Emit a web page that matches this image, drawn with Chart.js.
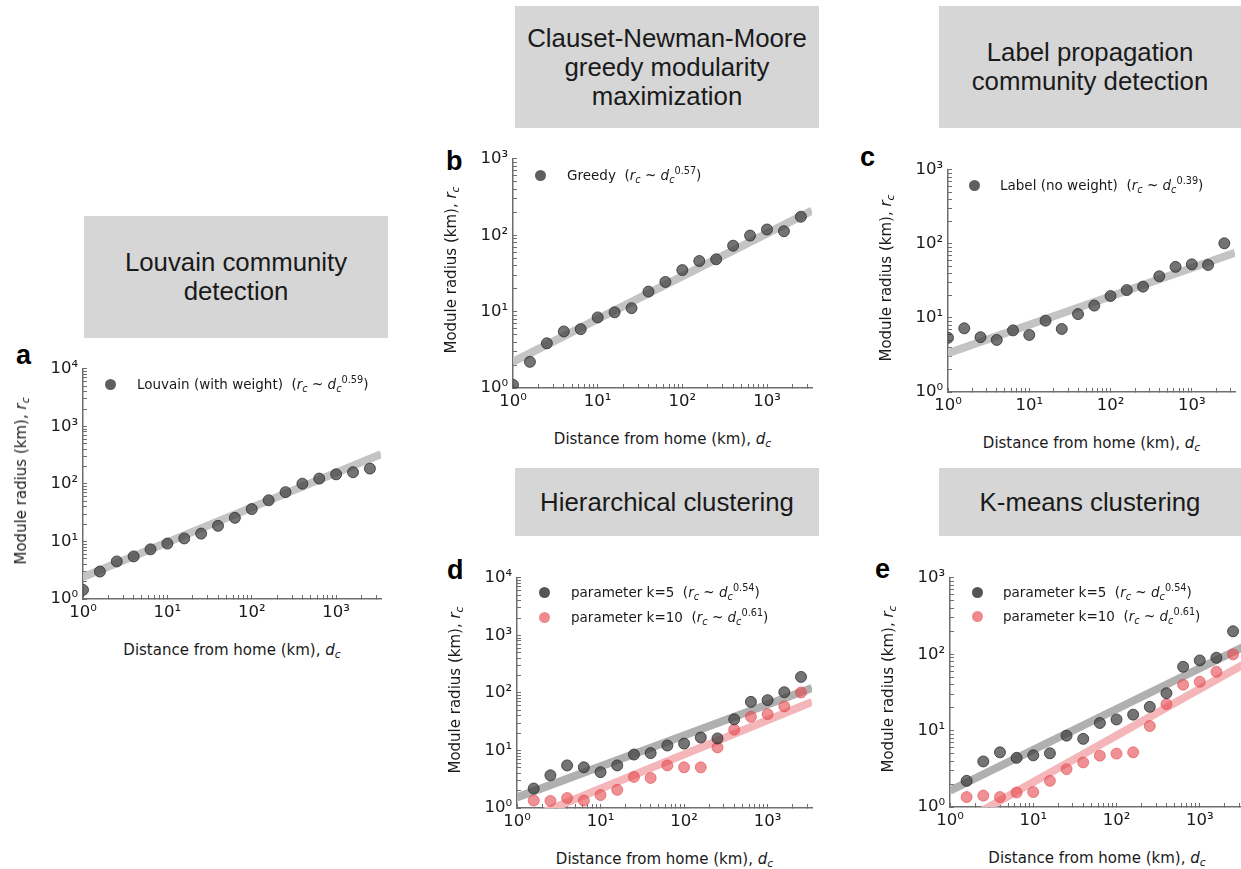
<!DOCTYPE html>
<html>
<head>
<meta charset="utf-8">
<script src="https://cdn.jsdelivr.net/npm/chart.js@4.4.1/dist/chart.umd.min.js"></script>
<style>
  body { margin: 0; width: 1241px; height: 869px; overflow: hidden; background: #fff; position: relative; font-family: "DejaVu Sans", sans-serif; color: #1a1a1a; }
  canvas { position: absolute; }
  .box { position: absolute; background: #d6d6d6; display: flex; align-items: center; justify-content: center; text-align: center;
         font-family: "Liberation Sans", Arial, sans-serif; font-size: 25.8px; line-height: 29px; color: #1a1a1a; }
  .letter { position: absolute; font-family: "Liberation Sans", Arial, sans-serif; font-weight: bold; font-size: 27px; line-height: 26px; color: #000; }
  .atitle { position: absolute; font-size: 15px; white-space: nowrap; line-height: 18px; }
  .leg { position: absolute; font-size: 13.5px; white-space: nowrap; height: 20px; line-height: 20px; display: flex; align-items: center; }
  .dot { display: inline-block; width: 11px; height: 11px; border-radius: 50%; flex: none; }
  sub { font-size: 0.72em; vertical-align: -0.3em; line-height: 0; }
  sup { font-size: 0.72em; vertical-align: 0.6em; line-height: 0; }
</style>
</head>
<body>
<div class="box" style="left:84px;top:216px;width:304px;height:122px;">Louvain community<br>detection</div>
<div class="box" style="left:515px;top:6px;width:304px;height:122px;">Clauset-Newman-Moore<br>greedy modularity<br>maximization</div>
<div class="box" style="left:939px;top:6px;width:302px;height:122px;">Label propagation<br>community detection</div>
<div class="box" style="left:515px;top:468px;width:304px;height:68px;">Hierarchical clustering</div>
<div class="box" style="left:939px;top:468px;width:302px;height:68px;">K-means clustering</div>

<div class="letter" style="left:16px;top:342px;">a</div>
<div class="letter" style="left:446px;top:148px;">b</div>
<div class="letter" style="left:860px;top:144px;">c</div>
<div class="letter" style="left:447px;top:557px;">d</div>
<div class="letter" style="left:875px;top:556px;">e</div>

<canvas id="pa"></canvas>
<canvas id="pb"></canvas>
<canvas id="pc"></canvas>
<canvas id="pd"></canvas>
<canvas id="pe"></canvas>

<script>
// distance bins (km), shared by every panel
const distanceKm = [1, 1.585, 2.512, 3.981, 6.31, 10, 15.85, 25.12, 39.81, 63.1, 100, 158.5, 251.2, 398.1, 631, 1000, 1585, 2512];
const distanceKmFrom2 = distanceKm.slice(1);

// module radius (km)
const louvainRadius = [1.44, 3.0, 4.5, 5.5, 7.3, 9.2, 11.3, 13.7, 18.7, 25.8, 36.6, 52, 72, 101, 124, 147, 160, 185];
const greedyRadius = [1.1, 2.2, 3.85, 5.5, 5.9, 8.4, 9.8, 11.1, 18.3, 24.5, 35, 46, 48.5, 73, 99, 119, 113, 175];
const labelRadius = [5.4, 7.25, 5.5, 5.05, 6.8, 5.9, 9.2, 7.1, 11.3, 14.7, 19.8, 23.8, 26.5, 36.6, 49, 53, 52, 102];
const hierK5Radius = [2.18, 3.7, 5.5, 5.1, 4.2, 5.5, 8.5, 9.0, 12.2, 13.2, 16.8, 16.2, 34.8, 70, 75, 103, 190];
const hierK10Radius = [1.35, 1.33, 1.49, 1.35, 1.68, 2.07, 3.47, 3.33, 5.5, 5.1, 5.1, 11.3, 23, 38.6, 42.8, 58.4, 102];
const kmeansK5Radius = [2.2, 3.95, 5.2, 4.4, 4.75, 5.05, 8.6, 7.8, 12.6, 14, 16.2, 20.5, 30.9, 68.6, 83, 90, 200];
const kmeansK10Radius = [1.35, 1.41, 1.35, 1.55, 1.57, 2.2, 3.13, 3.84, 4.7, 5.0, 5.2, 11.5, 22.2, 40, 43.6, 59, 99.6];

// fitted power-law lines, end points
const fitX = [1, 3400];
const louvainFit = [2.4, 330];
const greedyFit = [2.2, 210];
const labelFit = [3.35, 76];
const hierK5Fit = [1.53, 122];
const hierK10Fit = [0.55, 70];
const kmeansK5Fit = [1.64, 126];
const kmeansK10Fit = [0.52, 74];

// tick labels
const tickValues = [1, 10, 100, 1000, 10000];
const tickLabels = ['10⁰', '10¹', '10²', '10³', '10⁴'];

// legend texts
const legendA = [['Louvain (with weight)', '0.59']];
const legendB = [['Greedy', '0.57']];
const legendC = [['Label (no weight)', '0.39']];
const legendDE = [['parameter k=5', '0.54'], ['parameter k=10', '0.61']];

const GRAY_PT = 'rgba(62,62,62,0.72)';
const GRAY_EDGE = 'rgba(40,40,40,0.75)';
const RED_PT = 'rgba(229,72,77,0.6)';

function pts(xs, ys) { return xs.map((x, i) => ({ x: x, y: ys[i] })); }

function scatterSet(xs, ys, color, edge) {
  return { type: 'scatter', data: pts(xs, ys), backgroundColor: color, borderColor: edge, borderWidth: 1,
           pointRadius: 5.5, order: 1, clip: 0 };
}
function fitSet(ys, color) {
  return { type: 'line', data: pts(fitX, ys), borderColor: color, borderWidth: 8, pointRadius: 0,
           borderCapStyle: 'butt', order: 2, clip: 0 };
}

function keepIntegerSignificands(scale) {
  scale.ticks = scale.ticks.filter(t => {
    const m = t.value / Math.pow(10, Math.floor(Math.log10(t.value) + 1e-9));
    return Math.abs(m - Math.round(m)) < 1e-6;
  });
}

function logAxis(min, max, isX) {
  return {
    type: 'logarithmic', min: min, max: max,
    border: { display: true, color: '#6e6e6e', width: 1.5 },
    grid: { display: true, drawOnChartArea: false, drawTicks: true, tickLength: -4, tickColor: '#6e6e6e', tickWidth: 1 },
    ticks: {
      autoSkip: false, maxRotation: 0, minRotation: 0, padding: isX ? 8 : 9, color: '#1a1a1a',
      font: { family: 'DejaVu Sans', size: 16.5 },
      callback: v => { const i = tickValues.indexOf(v); return i >= 0 ? tickLabels[i] : ''; }
    },
    afterBuildTicks: keepIntegerSignificands,
    afterFit: s => { if (isX) s.height = 30; else s.width = 70; }
  };
}

function makePanel(id, area, yMax, datasets) {
  const padT = 12, padR = 12, yW = 70, xH = 30;
  const cv = document.getElementById(id);
  cv.width = area.r - area.l + yW + padR;
  cv.height = area.b - area.t + padT + xH;
  cv.style.left = (area.l - yW) + 'px';
  cv.style.top = (area.t - padT) + 'px';
  new Chart(cv.getContext('2d'), {
    data: { datasets: datasets },
    options: {
      responsive: false, animation: false, events: [],
      layout: { padding: { top: padT, right: padR, left: 0, bottom: 0 } },
      plugins: { legend: { display: false }, tooltip: { enabled: false } },
      scales: { x: logAxis(1, fitX[1], true), y: logAxis(1, yMax, false) }
    }
  });
  // axis titles
  const xt = document.createElement('div');
  xt.className = 'atitle';
  xt.innerHTML = 'Distance from home (km), <i>d</i><sub><i>c</i></sub>';
  xt.style.left = ((area.l + area.r) / 2) + 'px';
  xt.style.top = (area.b + 51) + 'px';
  xt.style.transform = 'translate(-50%,-50%)';
  document.body.appendChild(xt);
  const yt = document.createElement('div');
  yt.className = 'atitle';
  yt.innerHTML = 'Module radius (km), <i>r</i><sub><i>c</i></sub>';
  yt.style.left = (area.l - 62) + 'px';
  yt.style.top = ((area.t + area.b) / 2) + 'px';
  yt.style.transform = 'translate(-50%,-50%) rotate(-90deg)';
  document.body.appendChild(yt);
}

function makeLegend(rows, colors, mx, myList, textX) {
  rows.forEach((row, i) => {
    const d = document.createElement('div');
    d.className = 'leg';
    d.style.left = (mx - 5.5) + 'px';
    d.style.top = (myList[i] - 10) + 'px';
    d.innerHTML = '<span class="dot" style="background:' + colors[i] + ';margin-right:' + (textX - mx - 5.5) + 'px"></span>' +
      '<span>' + row[0] + '&nbsp;&nbsp;(<i>r</i><sub><i>c</i></sub> ~ <i>d</i><sub><i>c</i></sub><sup>' + row[1] + '</sup>)</span>';
    document.body.appendChild(d);
  });
}

makePanel('pa', { l: 83, t: 362, r: 381, b: 599 }, 10000, [
  scatterSet(distanceKm, louvainRadius, GRAY_PT, GRAY_EDGE),
  fitSet(louvainFit, '#c4c4c4')
]);
makePanel('pb', { l: 513, t: 152, r: 812, b: 388 }, 1000, [
  scatterSet(distanceKm, greedyRadius, GRAY_PT, GRAY_EDGE),
  fitSet(greedyFit, '#c4c4c4')
]);
makePanel('pc', { l: 948, t: 163, r: 1235, b: 392 }, 1000, [
  scatterSet(distanceKm, labelRadius, GRAY_PT, GRAY_EDGE),
  fitSet(labelFit, '#c4c4c4')
]);
makePanel('pd', { l: 517, t: 571, r: 812, b: 808 }, 10000, [
  scatterSet(distanceKmFrom2, hierK5Radius, GRAY_PT, GRAY_EDGE),
  scatterSet(distanceKmFrom2, hierK10Radius, RED_PT, RED_PT),
  fitSet(hierK5Fit, '#b0b0b0'),
  fitSet(hierK10Fit, '#f4b6b9')
]);
makePanel('pe', { l: 950, t: 571, r: 1244, b: 807 }, 1000, [
  scatterSet(distanceKmFrom2, kmeansK5Radius, GRAY_PT, GRAY_EDGE),
  scatterSet(distanceKmFrom2, kmeansK10Radius, RED_PT, RED_PT),
  fitSet(kmeansK5Fit, '#b0b0b0'),
  fitSet(kmeansK10Fit, '#f4b6b9')
]);

makeLegend(legendA, ['#5f5f5f'], 110, [384], 137);
makeLegend(legendB, ['#5f5f5f'], 540, [175], 567);
makeLegend(legendC, ['#5f5f5f'], 974, [185], 1000);
makeLegend(legendDE, ['#555555', '#ee8a8e'], 544, [592, 617], 571);
makeLegend(legendDE, ['#555555', '#ee8a8e'], 977, [592, 616], 1003);
</script>
</body>
</html>
